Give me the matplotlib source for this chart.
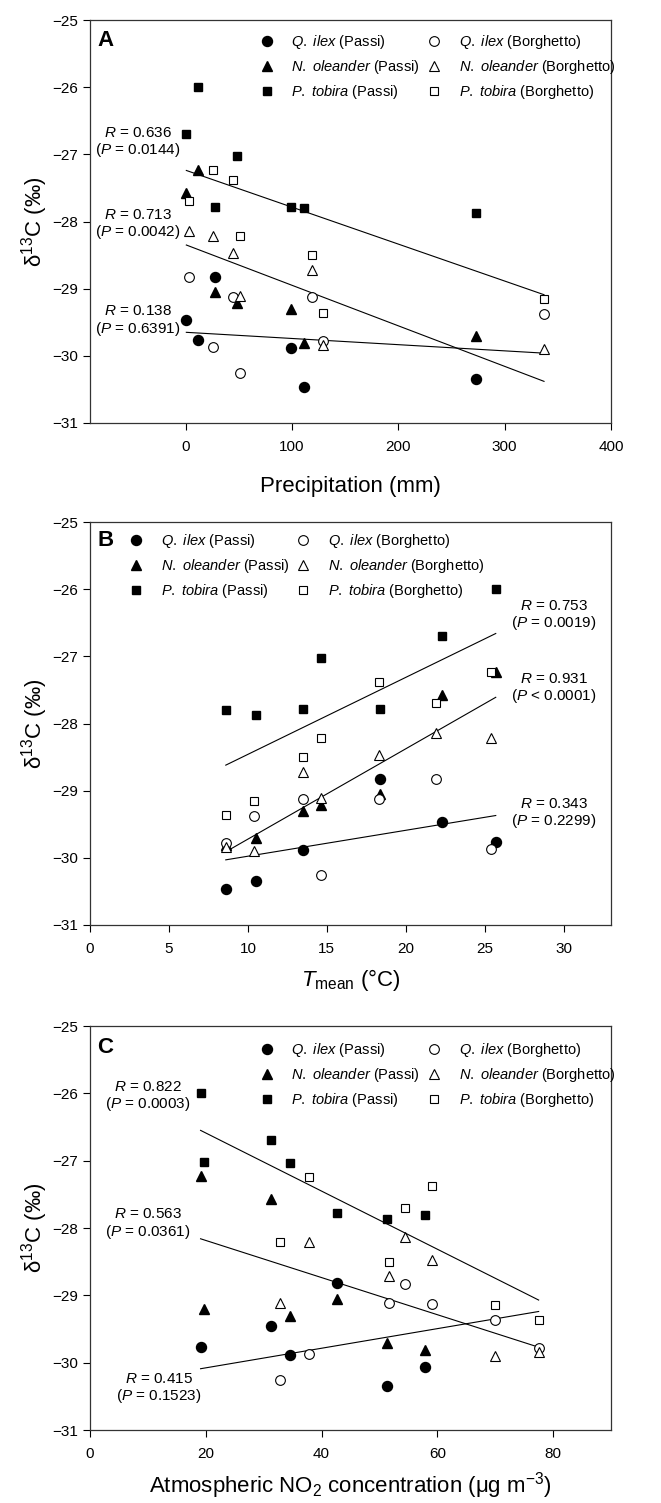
import numpy as np
import matplotlib
matplotlib.use("Agg")
import matplotlib.pyplot as plt

plt.rcParams['font.family'] = ['Liberation Sans', 'DejaVu Sans']
plt.rcParams['mathtext.fontset'] = 'custom'
plt.rcParams['mathtext.rm'] = 'Liberation Sans'
plt.rcParams['mathtext.it'] = 'Liberation Sans:italic'
plt.rcParams['mathtext.bf'] = 'Liberation Sans:bold'

# Sites at Passi and at Borghetto: precipitation (mm), mean temperature (°C), NO2 (µg m-3)
precip_passi = [0.6, 11.6, 27.2, 48.5, 98.9, 111, 273]
tmean_passi = [22.3, 25.7, 18.4, 14.6, 13.5, 8.6, 10.5]
no2_passi = [31.3, 19.1, 42.7, 19.7, 34.5, 57.8, 51.3]

precip_borg = [3.4, 25.6, 44.1, 50.7, 119, 129.6, 337]
tmean_borg = [21.9, 25.4, 18.3, 14.6, 13.5, 8.6, 10.4]
no2_borg = [54.4, 37.9, 59.0, 32.9, 51.6, 77.5, 69.9]

# delta13C (per mil)
tobira_passi = [-26.70, -26.00, -27.79, -27.02, -27.79, -27.80, -27.87]
oleander_passi = [-27.57, -27.23, -29.05, -29.21, -29.30, -29.81, -29.71]
ilex_passi = [-29.47, -29.77, -28.82, np.nan, -29.88, -30.47, -30.34]
# panel C shows a few Passi values differently
tobira_passi_c = [-26.70, -26.00, -27.78, -27.02, -27.04, -27.81, -27.87]
ilex_passi_c = [-29.46, -29.77, -28.82, np.nan, -29.88, -30.07, -30.34]

tobira_borg = [-27.70, -27.24, -27.38, -28.21, -28.50, -29.36, -29.15]
oleander_borg = [-28.14, -28.21, -28.47, -29.11, -28.72, -29.84, -29.90]
ilex_borg = [-28.83, -29.87, -29.13, -30.25, -29.12, -29.78, -29.37]

# regression lines: x range and y at both ends (tobira, oleander, ilex)
fit_x_a = [0.6, 337]
fit_a = [[-27.24, -29.09], [-28.35, -30.38], [-29.65, -29.96]]
fit_x_b = [8.6, 25.7]
fit_b = [[-28.62, -26.66], [-29.91, -27.61], [-30.03, -29.37]]
fit_x_c = [19.1, 77.5]
fit_c = [[-26.55, -29.07], [-28.16, -29.77], [-30.09, -29.24]]

stats_a = [("0.636", "=", "0.0144"), ("0.713", "=", "0.0042"), ("0.138", "=", "0.6391")]
stats_b = [("0.753", "=", "0.0019"), ("0.931", "<", "0.0001"), ("0.343", "=", "0.2299")]
stats_c = [("0.822", "=", "0.0003"), ("0.563", "=", "0.0361"), ("0.415", "=", "0.1523")]
# where the R/P labels sit (data coords, centre of the block)
stats_pos_a = [(-45, -26.82), (-45, -28.04), (-45, -29.48)]
stats_pos_b = [(29.4, -26.39), (29.4, -27.48), (29.4, -29.34)]
stats_pos_c = [(10.0, -26.05), (10.0, -27.94), (11.9, -30.38)]

labels = [r"$\it{Q.\ ilex}$ (Passi)", r"$\it{N.\ oleander}$ (Passi)", r"$\it{P.\ tobira}$ (Passi)",
          r"$\it{Q.\ ilex}$ (Borghetto)", r"$\it{N.\ oleander}$ (Borghetto)", r"$\it{P.\ tobira}$ (Borghetto)"]

W, H = 661, 1503
fig = plt.figure(figsize=(W / 100, H / 100), dpi=100)


def panel(rect, letter, letter_y, xp, xb, ilex_p, tobira_p, fit_x, fits, stats, stats_pos,
          xlim, xticks, xlabel, xlabelpad, leg_anchor):
    ax = fig.add_axes(rect)
    lw = 0.8
    for f in fits:
        ax.plot(fit_x, f, color='black', lw=lw, zorder=1)

    h = []
    h += ax.plot(xp, ilex_p, 'o', ms=7.2, mfc='black', mec='black', ls='none')
    h += ax.plot(xp, oleander_passi, '^', ms=7.2, mfc='black', mec='black', ls='none')
    h += ax.plot(xp, tobira_p, 's', ms=6.3, mfc='black', mec='black', ls='none')
    h += ax.plot(xb, ilex_borg, 'o', ms=7.0, mfc='white', mec='black', mew=0.8, ls='none')
    h += ax.plot(xb, oleander_borg, '^', ms=7.2, mfc='white', mec='black', mew=0.8, ls='none')
    h += ax.plot(xb, tobira_borg, 's', ms=6.0, mfc='white', mec='black', mew=0.8, ls='none')

    for (r, op, p), (tx, ty) in zip(stats, stats_pos):
        ax.text(tx, ty, r"$\it{R}$ = " + r + "\n(" + r"$\it{P}$ " + op + " " + p + ")",
                ha='center', va='center', multialignment='center', fontsize=11, linespacing=1.1)

    ax.legend(h, labels, ncol=2, loc='upper left', bbox_to_anchor=leg_anchor, frameon=False,
              fontsize=10.5, borderpad=0, borderaxespad=0, handlelength=1.0, handletextpad=1.2,
              columnspacing=0.45, labelspacing=0.47)

    ax.text(0.014, letter_y, letter, transform=ax.transAxes, fontsize=16,
            fontweight='bold', va='center')
    ax.set_xlim(xlim)
    ax.set_ylim(-31, -25)
    ax.set_xticks(xticks)
    ax.set_yticks([-31, -30, -29, -28, -27, -26, -25])
    ax.tick_params(axis='x', pad=7)
    ax.tick_params(direction='out', length=5, width=0.8, labelsize=11,
                   top=False, right=False)
    for s in ax.spines.values():
        s.set_linewidth(0.9)
        s.set_color('#333333')
    ax.set_xlabel(xlabel, fontsize=16, labelpad=xlabelpad)
    ax.set_ylabel("δ$^{13}$C (‰)", fontsize=16, labelpad=2)
    return ax


panel([90 / W, 1 - 423 / H, 521 / W, 403 / H], "A", 0.95, precip_passi, precip_borg,
      ilex_passi, tobira_passi, fit_x_a, fit_a, stats_a, stats_pos_a,
      (-90, 400), [0, 100, 200, 300, 400], "Precipitation (mm)", 16, (0.325, 0.968))

panel([90 / W, 1 - 925 / H, 521 / W, 403 / H], "B", 0.955, tmean_passi, tmean_borg,
      ilex_passi, tobira_passi, fit_x_b, fit_b, stats_b, stats_pos_b,
      (0, 33), [0, 5, 10, 15, 20, 25, 30], r"$\it{T}_{\rm mean}$ (°C)", 8, (0.074, 0.975))

panel([90 / W, 1 - 1430 / H, 521 / W, 404 / H], "C", 0.948, no2_passi, no2_borg,
      ilex_passi_c, tobira_passi_c, fit_x_c, fit_c, stats_c, stats_pos_c,
      (0, 90), [0, 20, 40, 60, 80], "Atmospheric NO$_2$ concentration (μg m$^{-3}$)", 7,
      (0.325, 0.962))

fig.savefig("out.png", dpi=100)
